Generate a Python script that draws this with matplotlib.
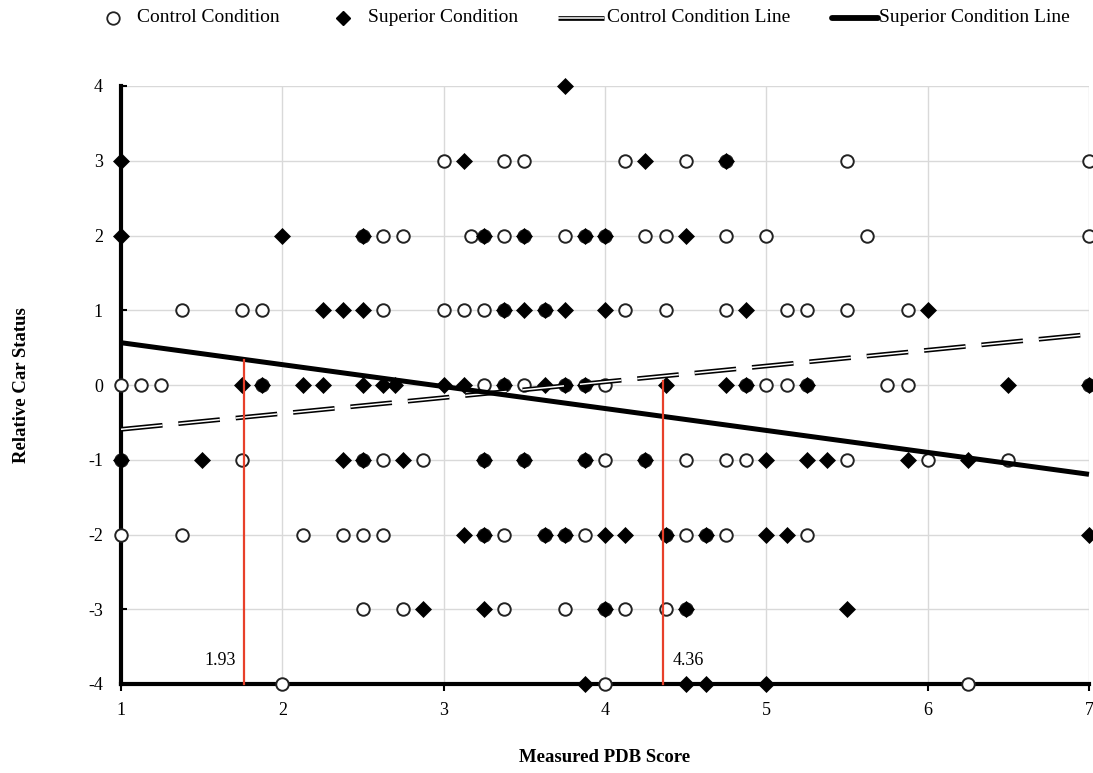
import numpy as np
import matplotlib
matplotlib.use("Agg")
import matplotlib.pyplot as plt
from matplotlib.lines import Line2D

plt.rcParams['font.family'] = ['Liberation Serif', 'DejaVu Serif']
plt.rcParams['axes.unicode_minus'] = False
plt.rcParams['lines.scale_dashes'] = False

# control condition points (PDB score, car status), grouped by status row
ctrl_x = [3, 3.375, 3.5, 4.125, 4.5, 4.75, 5.5, 7,
          2.5, 2.625, 2.75, 3.17, 3.25, 3.375, 3.5, 3.75, 3.875, 4, 4.25, 4.375, 4.75, 5, 5.625, 7,
          1.375, 1.75, 1.875, 2.625, 3, 3.125, 3.25, 3.375, 3.625, 4.125, 4.375, 4.75, 5.125, 5.25, 5.5, 5.875,
          1, 1.125, 1.25, 1.875, 3.25, 3.375, 3.5, 3.75, 3.875, 4, 4.875, 5, 5.125, 5.25, 5.75, 5.875, 7,
          1, 1.75, 2.5, 2.625, 2.875, 3.25, 3.5, 3.875, 4, 4.25, 4.5, 4.75, 4.875, 5.5, 6, 6.5,
          1, 1.375, 2.125, 2.375, 2.5, 2.625, 3.25, 3.375, 3.625, 3.75, 3.875, 4.375, 4.5, 4.625, 4.75, 5.25,
          2.5, 2.75, 3.375, 3.75, 4, 4.125, 4.375, 4.5,
          2, 4, 6.25]
ctrl_y = [3] * 8 + [2] * 16 + [1] * 16 + [0] * 17 + [-1] * 16 + [-2] * 16 + [-3] * 8 + [-4] * 3

# superior condition points
sup_x = [3.75,
         1, 3.125, 4.25, 4.75,
         1, 2, 2.5, 3.25, 3.5, 3.875, 4, 4.5,
         2.25, 2.375, 2.5, 3.375, 3.5, 3.625, 3.75, 4, 4.875, 6,
         1.75, 1.875, 2.125, 2.25, 2.5, 2.625, 2.7, 3, 3.125, 3.375, 3.625, 3.75, 3.875, 4.375, 4.75, 4.875, 5.25, 6.5, 7,
         1, 1.5, 2.375, 2.5, 2.75, 3.25, 3.5, 3.875, 4.25, 5, 5.25, 5.375, 5.875, 6.25,
         3.125, 3.25, 3.625, 3.75, 4, 4.125, 4.375, 4.625, 5, 5.125, 7,
         2.875, 3.25, 4, 4.5, 5.5,
         3.875, 4.5, 4.625, 5]
sup_y = [4] + [3] * 4 + [2] * 8 + [1] * 10 + [0] * 19 + [-1] * 14 + [-2] * 11 + [-3] * 5 + [-4] * 4

# trend lines (end points)
line_x = [1, 7]
ctrl_fit = [-0.593, 0.678]
sup_fit = [0.566, -1.195]

# red cut lines
cut_x = [1.76, 4.36]
cut_top = [0.33, 0.05]
cut_labels = ['1.93', '4.36']

fig = plt.figure(figsize=(10.93, 7.73), dpi=100)
ax = fig.add_axes([121 / 1093, 1 - 684 / 773, (1089 - 121) / 1093, (684 - 86) / 773])

ax.set_xlim(1, 7)
ax.set_ylim(-4, 4)
ax.set_xticks(range(1, 8))
ax.set_yticks(range(-4, 5))
ax.grid(True, color='#d9d9d9', lw=1.0)
ax.set_axisbelow(True)
for s in ['top', 'right']:
    ax.spines[s].set_visible(False)
for s in ['left', 'bottom']:
    ax.spines[s].set_linewidth(3)
ax.tick_params(axis='y', direction='in', length=4, width=1.5, pad=13, labelsize=13)
ax.tick_params(axis='x', direction='out', length=5, width=1.5, pad=8, labelsize=13)

ax.plot(ctrl_x, ctrl_y, 'o', ms=9, mfc='white', mec='#222222', mew=1.4,
        ls='none', clip_on=False, zorder=4)
ax.plot(sup_x, sup_y, 'D', ms=8.3, mfc='black', mec='black', mew=0.5,
        ls='none', clip_on=False, zorder=5)

# control line: double dashed
ax.plot(line_x, ctrl_fit, color='black', lw=3.4, dashes=(30, 11.5), dash_capstyle='butt', zorder=6)
ax.plot(line_x, ctrl_fit, color='white', lw=1.1, dashes=(30, 11.5), dash_capstyle='butt', zorder=7)
ax.plot(line_x, sup_fit, color='black', lw=3.6, solid_capstyle='butt', zorder=8, clip_on=False)

for cx, ct in zip(cut_x, cut_top):
    ax.plot([cx, cx], [-4, ct], color='#e8402a', lw=1.6, zorder=9, clip_on=False)
ax.text(cut_x[0] - 0.05, -3.69, cut_labels[0], ha='right', va='center', fontsize=13, zorder=10)
ax.text(cut_x[1] + 0.06, -3.69, cut_labels[1], ha='left', va='center', fontsize=13, zorder=10)

fig.text(22 / 1093, 1 - 385 / 773, 'Relative Car Status', rotation=90, ha='center', va='center',
         fontsize=13.5, fontweight='bold')
fig.text(605 / 1093, 1 - 758 / 773, 'Measured PDB Score', ha='center', va='center',
         fontsize=13.5, fontweight='bold')

# legend drawn by hand along the top
ly = 1 - 18 / 773
W = 1093.0
fig.add_artist(Line2D([113 / W], [ly], marker='o', ms=9, mfc='white', mec='#222222', mew=1.3,
                      transform=fig.transFigure))
fig.text(137 / W, ly, 'Control Condition', ha='left', va='center', fontsize=14)
fig.add_artist(Line2D([343 / W], [ly], marker='D', ms=7, color='black',
                      transform=fig.transFigure))
fig.text(368 / W, ly, 'Superior Condition', ha='left', va='center', fontsize=14)
fig.add_artist(Line2D([558 / W, 604 / W], [ly, ly], color='black', lw=3.4,
                      solid_capstyle='butt', transform=fig.transFigure))
fig.add_artist(Line2D([558 / W, 604 / W], [ly, ly], color='white', lw=1.1,
                      solid_capstyle='butt', transform=fig.transFigure))
fig.text(607 / W, ly, 'Control Condition Line', ha='left', va='center', fontsize=14)
fig.add_artist(Line2D([832 / W, 878 / W], [ly, ly], color='black', lw=4.2,
                      solid_capstyle='round', transform=fig.transFigure))
fig.text(879 / W, ly, 'Superior Condition Line', ha='left', va='center', fontsize=14)

fig.savefig('out.png', dpi=100)
